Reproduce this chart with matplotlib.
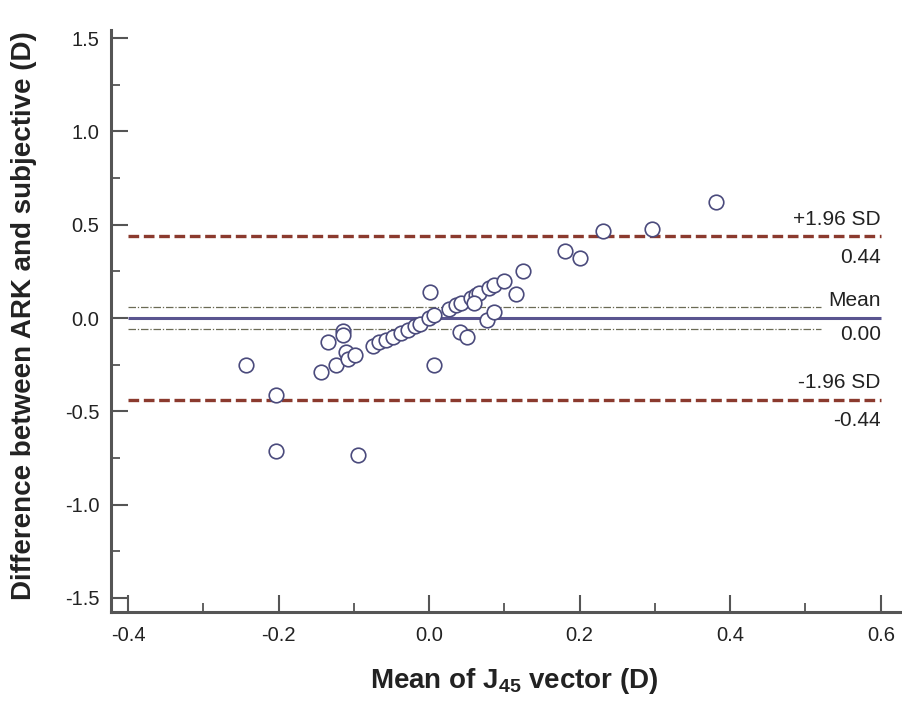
import numpy as np
import matplotlib.pyplot as plt
from matplotlib.ticker import MultipleLocator

plt.rcParams["font.family"] = ["Liberation Sans", "DejaVu Sans"]
plt.rcParams["mathtext.fontset"] = "custom"
plt.rcParams["mathtext.rm"] = "Liberation Sans"
plt.rcParams["mathtext.bf"] = "Liberation Sans:bold"

# -----------------------------
# Data
# -----------------------------
mean_j45 = [
    -0.243, -0.203, -0.203, -0.094, -0.144, -0.134, -0.124, -0.114, -0.114,
    -0.110, -0.108, -0.099, -0.074, -0.066, -0.057, -0.048, -0.037, -0.028,
    -0.019, -0.012, 0.001, 0.000, 0.007, 0.006, 0.026, 0.036, 0.042, 0.041,
    0.051, 0.056, 0.062, 0.066, 0.060, 0.077, 0.086, 0.080, 0.086, 0.100,
    0.116, 0.125, 0.180, 0.201, 0.231, 0.296, 0.381,
]
diff_ark_subj = [
    -0.25, -0.41, -0.71, -0.735, -0.29, -0.13, -0.25, -0.07, -0.09,
    -0.18, -0.22, -0.20, -0.15, -0.13, -0.12, -0.10, -0.08, -0.065,
    -0.045, -0.03, 0.14, 0.00, 0.015, -0.25, 0.05, 0.07, 0.08, -0.075,
    -0.10, 0.11, 0.125, 0.135, 0.08, -0.01, 0.03, 0.16, 0.175, 0.20,
    0.13, 0.25, 0.36, 0.32, 0.465, 0.475, 0.62,
]

mean_diff = 0.00
loa_upper = 0.44
loa_lower = -0.44
mean_ci = [-0.06, 0.06]

line_start = -0.4
line_end = 0.6
ci_end = 0.52

# -----------------------------
# Plot
# -----------------------------
fig = plt.figure(figsize=(9.02, 7.01), dpi=100)
ax = fig.add_axes([0.123, 0.127, 0.876, 0.830])

ax.hlines([loa_upper, loa_lower], line_start, line_end, colors="#8b3a2e",
          linestyles=(0, (3.2, 1.4)), linewidth=2.4, zorder=2)
ax.hlines(mean_ci, line_start, ci_end, colors="#6b6b55",
          linestyles=(0, (6, 1.5, 1, 1.5)), linewidth=0.9, zorder=2)
ax.hlines(mean_diff, line_start, line_end, colors="#5a5590",
          linewidth=2.2, zorder=2)

ax.scatter(mean_j45, diff_ark_subj, s=110, facecolors="white",
           edgecolors="#4a4a7c", linewidths=1.2, zorder=3)

txt = dict(ha="right", va="center", fontsize=15, color="#222222")
ax.text(line_end, loa_upper + 0.09, "+1.96 SD", **txt)
ax.text(line_end, loa_upper - 0.115, f"{loa_upper:.2f}", **txt)
ax.text(line_end, mean_diff + 0.095, "Mean", **txt)
ax.text(line_end, mean_diff - 0.09, f"{mean_diff:.2f}", **txt)
ax.text(line_end, loa_lower + 0.093, "-1.96 SD", **txt)
ax.text(line_end, loa_lower - 0.108, f"{loa_lower:.2f}", **txt)

ax.set_xlim(-0.4226, 0.627)
ax.set_ylim(-1.575, 1.543)
ax.xaxis.set_minor_locator(MultipleLocator(0.1))
ax.yaxis.set_minor_locator(MultipleLocator(0.25))
ax.set_xticks(np.arange(-0.4, 0.61, 0.2))
ax.set_yticks(np.arange(-1.5, 1.51, 0.5))
fmt = plt.FuncFormatter(lambda v, p: f"{v:.1f}".replace("-0.0", "0.0"))
ax.xaxis.set_major_formatter(fmt)
ax.yaxis.set_major_formatter(fmt)

for side in ("top", "right"):
    ax.spines[side].set_visible(False)
for side in ("left", "bottom"):
    ax.spines[side].set_linewidth(2.2)
    ax.spines[side].set_color("#555555")

ax.tick_params(axis="both", which="major", direction="in", length=12,
               width=1.5, color="#555555", labelsize=14.5, labelcolor="#222222")
ax.tick_params(axis="both", which="minor", direction="in", length=6.5,
               width=1.3, color="#555555")
ax.tick_params(axis="y", which="major", pad=8.5)
ax.tick_params(axis="x", which="major", pad=10)

ax.set_xlabel("Mean of J$_{\\mathbf{45}}$ vector (D)", fontsize=20,
              fontweight="bold", color="#222222")
ax.set_ylabel("Difference between ARK and subjective (D)", fontsize=20,
              fontweight="bold", color="#222222")
ax.xaxis.set_label_coords(0.51, -0.093)
ax.yaxis.set_label_coords(-0.094, 0.51)

fig.savefig("out.png", dpi=100)
